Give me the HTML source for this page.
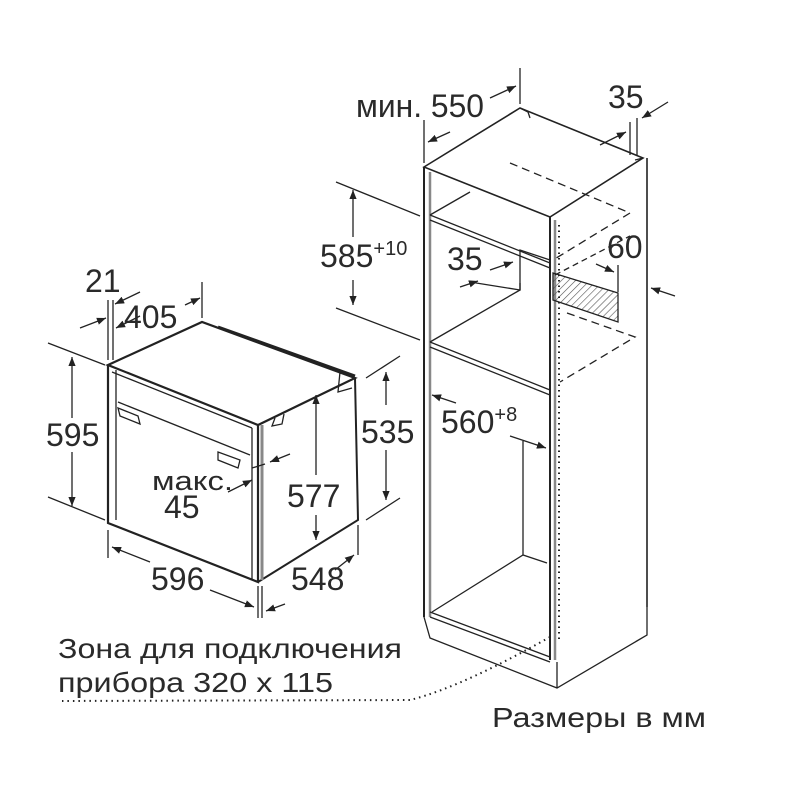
<!DOCTYPE html>
<html><head><meta charset="utf-8"><style>
html,body{margin:0;padding:0;background:#fff}
svg{display:block}
text{font-family:"Liberation Sans","DejaVu Sans",sans-serif;fill:#2a2a2a}
</style></head><body>
<svg width="800" height="800" viewBox="0 0 800 800" xmlns="http://www.w3.org/2000/svg">
<defs>
<marker id="a" viewBox="0 0 10 10" refX="10" refY="5" markerWidth="7" markerHeight="7" orient="auto-start-reverse"><path d="M0,1 L10,5 L0,9 Z" fill="#222"/></marker>
<pattern id="h" width="5" height="5" patternUnits="userSpaceOnUse" patternTransform="rotate(45)"><line x1="0" y1="0" x2="0" y2="5" stroke="#555" stroke-width="1.2"/></pattern>
</defs>
<g stroke="#222" fill="none" stroke-width="1.3">
<!-- OVEN -->
<path d="M108,365 L202,322 L355,378 L258,425 Z" stroke-width="2.2"/>
<path d="M108,365 L108,523 L258,582 L258,425" stroke-width="2.2"/>
<path d="M258,582 L358,520 L355,378" stroke-width="2"/>
<path d="M116,370 L116,520"/>
<path d="M112,372 L252,428"/>
<path d="M118,402 L250,455"/>
<path d="M118,408 L138,416 L140,424 L120,416 Z"/>
<path d="M218,452 L240,460 L238,468 L218,460 Z"/>
<path d="M252,428 L252,580"/>
<path d="M262,425 L262,580" stroke="#888" stroke-width="3"/>
<path d="M218,327 L355,376" stroke-width="3"/>
<path d="M340,372 L338,392 L352,388"/>
<path d="M275,418 L272,426 L282,424 L284,414"/>
<!-- oven dims -->
<line x1="48" y1="343" x2="105" y2="365"/>
<line x1="48" y1="497" x2="105" y2="520"/>
<line x1="72" y1="357" x2="72" y2="418" marker-start="url(#a)"/>
<line x1="72" y1="452" x2="72" y2="506" marker-end="url(#a)"/>
<line x1="108" y1="360" x2="108" y2="300"/>
<line x1="113" y1="360" x2="113" y2="300"/>
<line x1="80" y1="328" x2="106" y2="318" marker-end="url(#a)"/>
<line x1="140" y1="292" x2="115" y2="304" marker-end="url(#a)"/>
<line x1="140" y1="316" x2="116" y2="328" marker-end="url(#a)"/>
<line x1="185" y1="305" x2="200" y2="298" marker-end="url(#a)"/>
<line x1="202" y1="282" x2="202" y2="318"/>
<line x1="108" y1="530" x2="108" y2="558"/>
<line x1="258" y1="586" x2="258" y2="618"/>
<line x1="262" y1="586" x2="262" y2="618"/>
<line x1="150" y1="562" x2="112" y2="547" marker-end="url(#a)"/>
<line x1="210" y1="590" x2="254" y2="607" marker-end="url(#a)"/>
<line x1="358" y1="525" x2="358" y2="555"/>
<line x1="335" y1="570" x2="354" y2="555" marker-end="url(#a)"/>
<line x1="285" y1="604" x2="266" y2="611" marker-end="url(#a)"/>
<line x1="366" y1="378" x2="400" y2="356"/>
<line x1="366" y1="520" x2="400" y2="498"/>
<line x1="386" y1="372" x2="386" y2="405" marker-start="url(#a)"/>
<line x1="386" y1="450" x2="386" y2="500" marker-end="url(#a)"/>
<line x1="316" y1="395" x2="316" y2="475" marker-start="url(#a)"/>
<line x1="316" y1="515" x2="316" y2="540" marker-end="url(#a)"/>
<line x1="270" y1="462" x2="290" y2="454" marker-start="url(#a)"/>
<line x1="228" y1="492" x2="252" y2="480" marker-end="url(#a)"/>
<line x1="252" y1="468" x2="265" y2="464"/>
<!-- CABINET -->
<path d="M424,167 L520,108 L643,158 L550,217 Z" stroke-width="1.6"/>
<path d="M520,108 L528,112 L530,118"/>
<path d="M643,158 L635,160"/>
<path d="M424,167 L424,617" stroke-width="2"/>
<path d="M430,172 L430,617" stroke="#888" stroke-width="2.5"/>
<path d="M550,217 L550,660" stroke-width="2"/>
<path d="M555,220 L555,660" stroke="#888" stroke-width="2.5"/>
<path d="M647,158 L647,607" stroke-width="1.6"/>
<path d="M430,215 L550,263 M430,220 L550,268"/>
<path d="M430,215 L470,192"/>
<path d="M430,342 L550,390 M430,347 L550,395"/>
<path d="M430,342 L520,290"/>
<path d="M520,290 L520,250 L550,260"/>
<path d="M470,282 L520,290 L520,283"/>
<path d="M430,617 L550,662 M430,612 L550,657"/>
<path d="M432,612 L523,555 L547,563"/>
<path d="M523,555 L523,441"/>
<path d="M424,617 L430,638 L557,688 L647,635 L647,607 M557,688 L557,662"/>
<path d="M553,273 L618,293 L618,322 L553,300 Z" fill="url(#h)"/>
<path d="M510,163 L630,213 L553,260" stroke-dasharray="8,5"/>
<path d="M555,275 L630,236" stroke-dasharray="6,4"/>
<path d="M567,313 L635,337 L560,382" stroke-dasharray="8,5"/>
<path d="M559,225 L559,640" stroke-dasharray="1.5,4" stroke-width="2"/>
<path d="M550,637 C500,665 450,690 410,700 L62,701" stroke-dasharray="1.5,4" stroke-width="2"/>
<!-- cabinet dims -->
<line x1="424" y1="163" x2="424" y2="120"/>
<line x1="520" y1="104" x2="520" y2="68"/>
<line x1="450" y1="132" x2="428" y2="142" marker-end="url(#a)"/>
<line x1="490" y1="98" x2="516" y2="86" marker-end="url(#a)"/>
<line x1="630" y1="155" x2="630" y2="122"/>
<line x1="637" y1="155" x2="637" y2="118"/>
<line x1="600" y1="145" x2="626" y2="132" marker-end="url(#a)"/>
<line x1="668" y1="102" x2="642" y2="118" marker-end="url(#a)"/>
<line x1="336" y1="182" x2="420" y2="216"/>
<line x1="336" y1="308" x2="420" y2="340"/>
<line x1="353" y1="190" x2="353" y2="237" marker-start="url(#a)"/>
<line x1="353" y1="280" x2="353" y2="305" marker-end="url(#a)"/>
<line x1="490" y1="270" x2="513" y2="262" marker-end="url(#a)"/>
<line x1="460" y1="287" x2="478" y2="281" marker-end="url(#a)"/>
<line x1="618" y1="265" x2="618" y2="292"/>
<line x1="596" y1="264" x2="614" y2="272" marker-end="url(#a)"/>
<line x1="675" y1="296" x2="651" y2="288" marker-end="url(#a)"/>
<line x1="432" y1="395" x2="456" y2="403" marker-start="url(#a)"/>
<line x1="510" y1="436" x2="546" y2="448" marker-end="url(#a)"/>
</g>
<g font-size="32">
<text x="85" y="292">21</text>
<text x="124" y="328">405</text>
<text x="46" y="446">595</text>
<text x="152" y="490" font-size="27" textLength="81" lengthAdjust="spacingAndGlyphs">макс.</text>
<text x="164" y="518">45</text>
<text x="287" y="507">577</text>
<text x="361" y="443">535</text>
<text x="151" y="590">596</text>
<text x="291" y="590">548</text>
<text x="356" y="117" textLength="128" lengthAdjust="spacingAndGlyphs">мин. 550</text>
<text x="608" y="108">35</text>
<text x="320" y="267">585<tspan font-size="20" dy="-12">+10</tspan></text>
<text x="447" y="270">35</text>
<text x="607" y="258">60</text>
<text x="441" y="433">560<tspan font-size="20" dy="-12">+8</tspan></text>
<text x="58" y="658" font-size="28" textLength="344" lengthAdjust="spacingAndGlyphs">Зона для подключения</text>
<text x="58" y="692" font-size="28" textLength="275" lengthAdjust="spacingAndGlyphs">прибора 320 x 115</text>
<text x="492" y="727" font-size="28" textLength="214" lengthAdjust="spacingAndGlyphs">Размеры в мм</text>
</g>
</svg>
</body></html>
